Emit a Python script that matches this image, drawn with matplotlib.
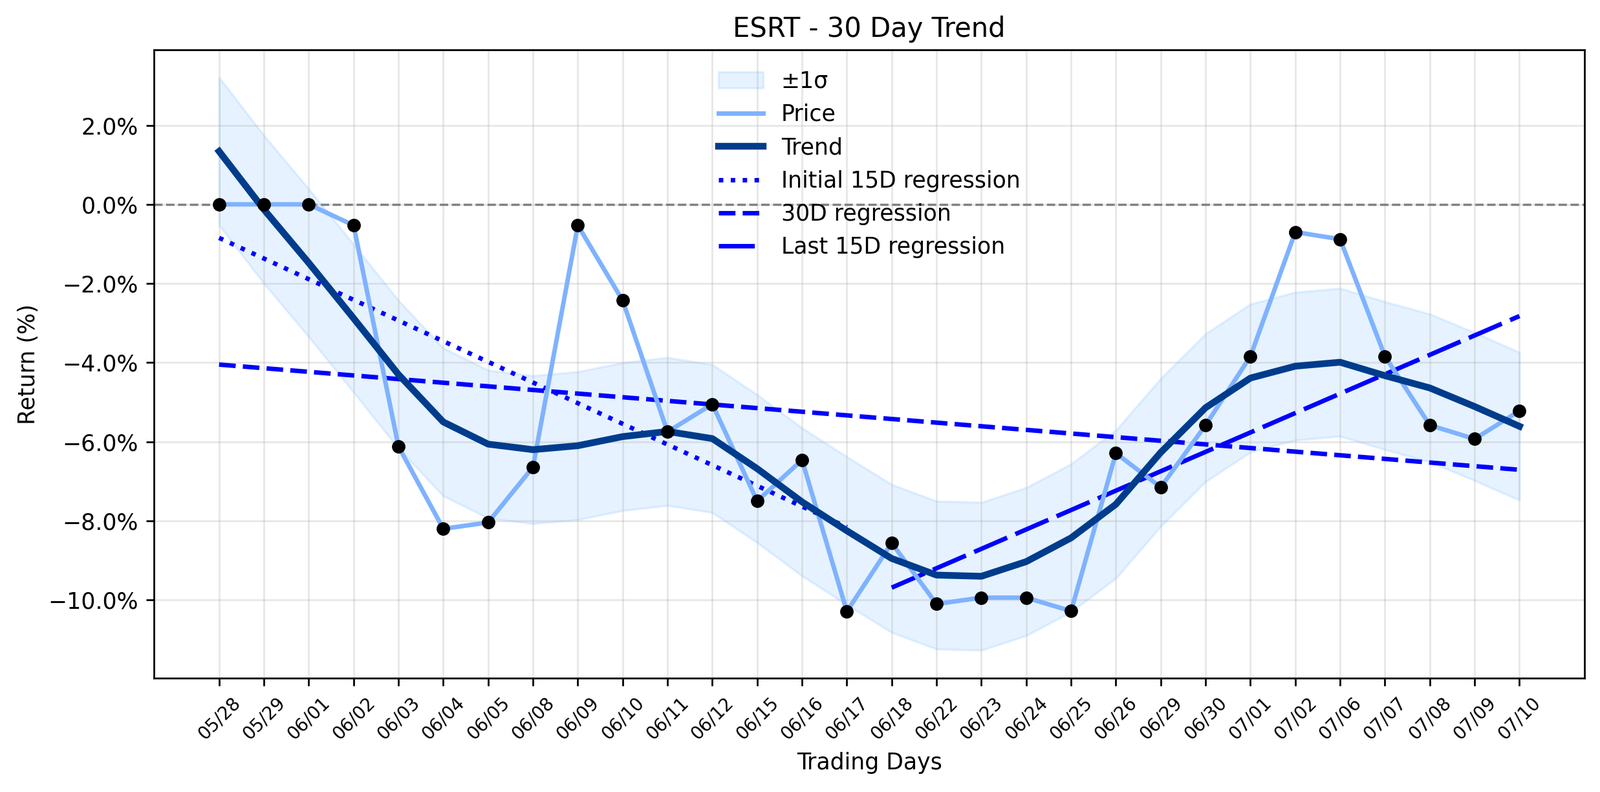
import numpy as np
import matplotlib
matplotlib.use("Agg")
import matplotlib.pyplot as plt
from matplotlib.ticker import PercentFormatter

dates = ["05/28", "05/29", "06/01", "06/02", "06/03", "06/04", "06/05", "06/08",
         "06/09", "06/10", "06/11", "06/12", "06/15", "06/16", "06/17", "06/18",
         "06/22", "06/23", "06/24", "06/25", "06/26", "06/29", "06/30", "07/01",
         "07/02", "07/06", "07/07", "07/08", "07/09", "07/10"]

price = [0.0, 0.0, 0.0, -0.53, -6.12, -8.20, -8.04, -6.64, -0.53, -2.43,
         -5.75, -5.05, -7.50, -6.46, -10.29, -8.56, -10.10, -9.94, -9.94, -10.28,
         -6.29, -7.15, -5.58, -3.84, -0.70, -0.88, -3.84, -5.58, -5.93, -5.22]

trend = [1.34, -0.13, -1.48, -2.88, -4.30, -5.50, -6.06, -6.20, -6.10, -5.87,
         -5.74, -5.92, -6.68, -7.52, -8.25, -8.95, -9.37, -9.40, -9.03, -8.43,
         -7.58, -6.27, -5.14, -4.39, -4.09, -3.99, -4.33, -4.64, -5.11, -5.61]

sigma = 1.87
yticks = [-10, -8, -6, -4, -2, 0, 2]

x = np.arange(len(dates))
price_a = np.array(price)
trend_a = np.array(trend)

fig = plt.figure(figsize=(2474 / 250, 1224 / 250), dpi=250)
ax = fig.add_axes([0.0963, 0.144, 0.9903 - 0.0963, 0.9368 - 0.144])

ax.fill_between(x, trend_a - sigma, trend_a + sigma, color="dodgerblue",
                alpha=0.11, label="±1σ")
ax.plot(x, price_a, color="#7fb2ff", lw=2, label="Price", zorder=3)
ax.scatter(x, price_a, color="black", s=25, zorder=5)
ax.plot(x, trend_a, color="#003c8c", lw=3, label="Trend", zorder=4)

h = len(x) // 2
c1 = np.polyfit(x[:h], price_a[:h], 1)
ax.plot(x[:h], np.polyval(c1, x[:h]), color="blue", lw=2, ls=":",
        label="Initial 15D regression")
c2 = np.polyfit(x, price_a, 1)
ax.plot(x, np.polyval(c2, x), color="blue", lw=2, ls="--",
        label="30D regression")
c3 = np.polyfit(x[h:], price_a[h:], 1)
ax.plot(x[h:], np.polyval(c3, x[h:]), color="blue", lw=2, ls=(0, (8, 2)),
        label="Last 15D regression")

ax.axhline(0, color="gray", ls="--", lw=1)

ax.set_xlim(-1.45, 30.45)
ax.set_ylim(-11.97, 3.9)
ax.set_xticks(x)
ax.set_xticklabels(dates, rotation=45, fontsize=8)
ax.set_yticks(yticks)
ax.yaxis.set_major_formatter(PercentFormatter(decimals=1))
ax.grid(True, alpha=0.3)
ax.set_xlabel("Trading Days")
ax.set_ylabel("Return (%)")
ax.set_title("ESRT - 30 Day Trend")
ax.legend(loc="upper center", frameon=False)

fig.savefig("out.png", dpi=250)
